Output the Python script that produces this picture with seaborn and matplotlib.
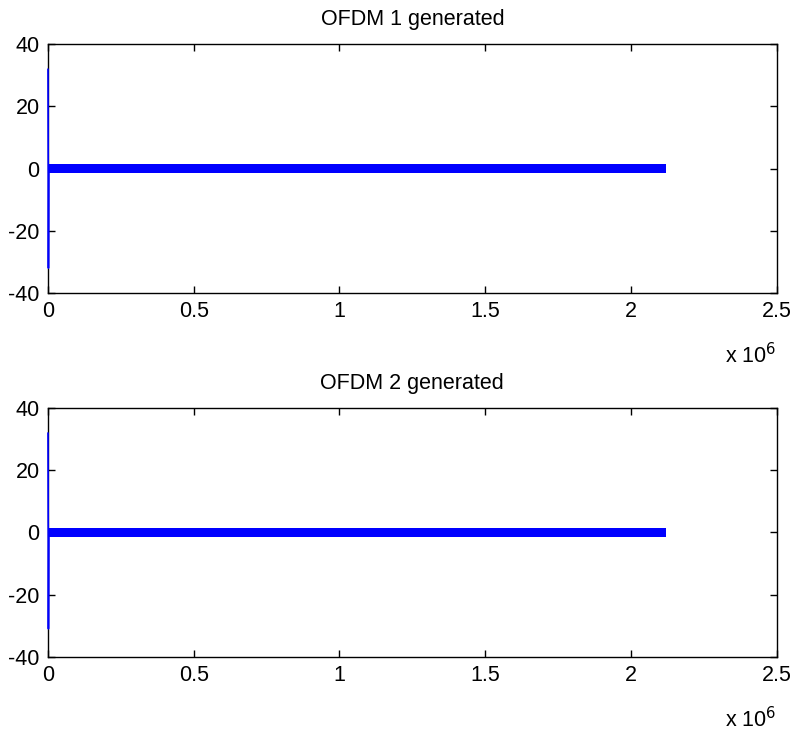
import numpy as np
import pandas as pd
import matplotlib
matplotlib.use("Agg")
import matplotlib.pyplot as plt
from matplotlib.ticker import FuncFormatter
import seaborn as sns

# values
titles = ["OFDM 1 generated", "OFDM 2 generated"]
# start-up spike at sample 0 (drawn as a near-vertical trace)
spike_x = [0, 1500, 3000]
spike_y = [[32, -32, 0], [32, -31, 0]]
# the dense signal looks like a thick band around zero up to ~2.12e6 samples
band_x = [0, 2120000]
band_lo = [-1.4, -1.4]
band_hi = [1.4, 1.4]
x_ticks = [0, 0.5e6, 1e6, 1.5e6, 2e6, 2.5e6]
y_ticks = [-40, -20, 0, 20, 40]

sns.set_style("ticks")
plt.rcParams["font.family"] = ["Liberation Sans", "DejaVu Sans"]
plt.rcParams["axes.unicode_minus"] = False
plt.rcParams["text.color"] = "black"
plt.rcParams["xtick.color"] = "black"
plt.rcParams["ytick.color"] = "black"

fig = plt.figure(figsize=(7.92, 7.38), dpi=100)
positions = [[0.0606, 0.603, 0.920, 0.337], [0.0606, 0.110, 0.920, 0.337]]

for i, pos in enumerate(positions):
    ax = fig.add_axes(pos)
    df = pd.DataFrame({"x": spike_x, "y": spike_y[i]})
    sns.lineplot(data=df, x="x", y="y", ax=ax, color="blue", lw=1.2,
                 sort=False, estimator=None, zorder=4, clip_on=False)
    ax.fill_between(band_x, band_lo, band_hi, color="blue", lw=0, zorder=3)

    ax.set_xlim(0, 2.5e6)
    ax.set_ylim(-40, 40)
    ax.set_xticks(x_ticks)
    ax.set_yticks(y_ticks)
    ax.xaxis.set_major_formatter(FuncFormatter(lambda v, p: f"{v / 1e6:g}"))
    ax.set_xlabel("")
    ax.set_ylabel("")
    ax.set_title(titles[i], fontsize=15.5, pad=14, color="black")
    ax.tick_params(direction="in", length=5, width=1, labelsize=15.5,
                   top=True, right=True, pad=6)
    for s in ax.spines.values():
        s.set_visible(True)
        s.set_linewidth(1.0)
        s.set_color("black")
    ax.text(1.0, -0.2, r"x 10$^{6}$", transform=ax.transAxes,
            ha="right", va="top", fontsize=15.5)

fig.savefig("out.png", dpi=100)
